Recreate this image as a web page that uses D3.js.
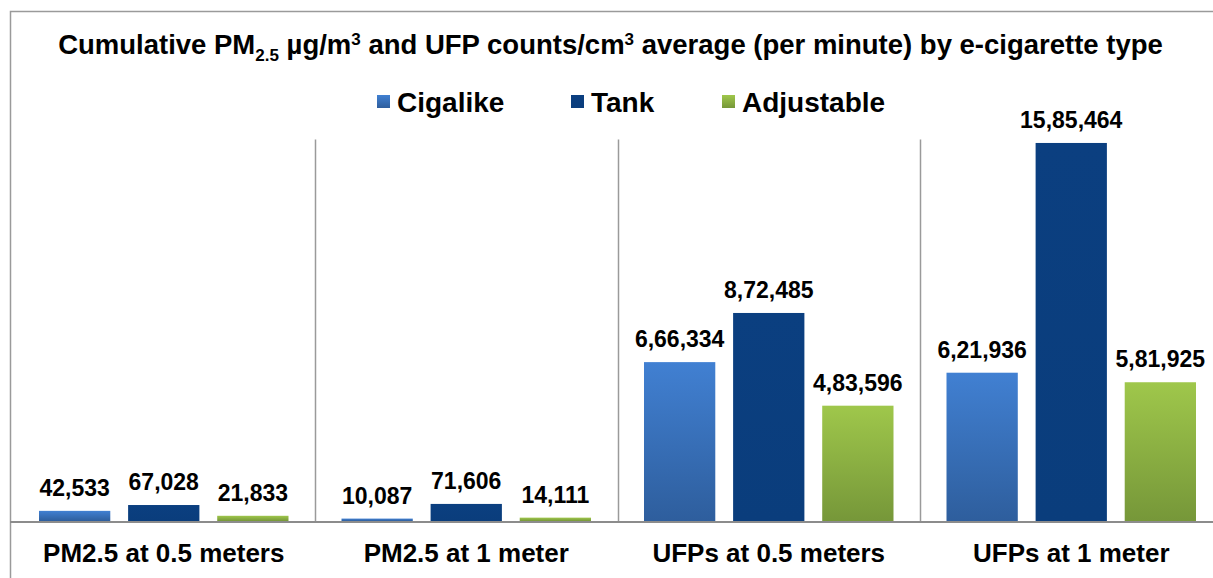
<!DOCTYPE html>
<html>
<head>
<meta charset="utf-8">
<script src="https://cdn.jsdelivr.net/npm/d3@7"></script>
<style>
  body { margin: 0; background: #fff; }
  svg { display: block; font-family: "Liberation Sans", Arial, sans-serif; }
</style>
</head>
<body>
<div id="chart"></div>
<script>
// data
const categories = ["PM2.5 at 0.5 meters", "PM2.5 at 1 meter", "UFPs at 0.5 meters", "UFPs at 1 meter"];
const series = ["Cigalike", "Tank", "Adjustable"];
const cigalike = [42533, 10087, 666334, 621936];
const tank = [67028, 71606, 872485, 1585464];
const adjustable = [21833, 14111, 483596, 581925];
const yMax = 1600000;

const values = [cigalike, tank, adjustable];
const colors = {
	Cigalike: ["#4180d2", "#2e5e9d"],
	Tank: ["#0b3f80", "#0a3d7c"],
	Adjustable: ["#9fc74b", "#769739"]
};

const W = 1213, H = 578;
const plotLeft = 12.5, plotRight = 1222.5, plotTop = 139.5, baseY = 521;

// indian style digit grouping: 15,85,464
function fmt(n) {
	const s = String(n);
	if (s.length <= 3) return s;
	let head = s.slice(0, -3), tail = s.slice(-3);
	head = head.replace(/\B(?=(\d{2})+(?!\d))/g, ",");
	return head + "," + tail;
}

const svg = d3.select("#chart")
	.append("svg")
	.attr("width", W)
	.attr("height", H);

// gradients
const defs = svg.append("defs");
series.forEach(s => {
	const g = defs.append("linearGradient")
		.attr("id", "grad-" + s)
		.attr("x1", 0).attr("y1", 0).attr("x2", 0).attr("y2", 1);
	g.append("stop").attr("offset", "0%").attr("stop-color", colors[s][0]);
	g.append("stop").attr("offset", "100%").attr("stop-color", colors[s][1]);
});

// outer frame (cropped on right and bottom)
svg.append("path")
	.attr("d", `M10.5,${H + 5} V11.5 H${W + 5}`)
	.attr("fill", "none")
	.attr("stroke", "#9a9a9a")
	.attr("stroke-width", 1.5);

// scales
const x = d3.scaleBand()
	.domain(categories)
	.range([plotLeft, plotRight])
	.padding(0);

const xInner = d3.scaleBand()
	.domain(series)
	.range([26.5, x.bandwidth() - 26.5])
	.paddingInner(0.2)
	.paddingOuter(0);

const y = d3.scaleLinear()
	.domain([0, yMax])
	.range([baseY, plotTop]);

// category separators
svg.append("g")
	.selectAll("line")
	.data(categories.slice(1))
	.join("line")
	.attr("x1", d => Math.round(x(d)) + 0.5)
	.attr("x2", d => Math.round(x(d)) + 0.5)
	.attr("y1", y(yMax))
	.attr("y2", baseY)
	.attr("stroke", "#9a9a9a")
	.attr("stroke-width", 1.5);

// bars
const rows = [];
categories.forEach((c, i) => {
	series.forEach((s, j) => rows.push({cat: c, key: s, value: values[j][i]}));
});

svg.append("g")
	.selectAll("rect")
	.data(rows)
	.join("rect")
	.attr("x", d => x(d.cat) + xInner(d.key))
	.attr("y", d => y(d.value))
	.attr("width", xInner.bandwidth())
	.attr("height", d => baseY - y(d.value))
	.attr("fill", d => `url(#grad-${d.key})`);

// data labels
svg.append("g")
	.selectAll("text")
	.data(rows)
	.join("text")
	.attr("x", d => x(d.cat) + xInner(d.key) + xInner.bandwidth() / 2)
	.attr("y", d => y(d.value) - 15)
	.attr("text-anchor", "middle")
	.style("font-size", "23px")
	.style("font-weight", "bold")
	.style("fill", "#000")
	.text(d => fmt(d.value));

// baseline axis
svg.append("line")
	.attr("x1", 10)
	.attr("x2", W + 5)
	.attr("y1", baseY + 1)
	.attr("y2", baseY + 1)
	.attr("stroke", "#8c8c8c")
	.attr("stroke-width", 2);

// category labels
svg.append("g")
	.selectAll("text")
	.data(categories)
	.join("text")
	.attr("x", d => x(d) + x.bandwidth() / 2)
	.attr("y", 562)
	.attr("text-anchor", "middle")
	.style("font-size", "26px")
	.style("font-weight", "bold")
	.text(d => d);

// title
const title = svg.append("text")
	.attr("x", 610.5)
	.attr("y", 54)
	.attr("text-anchor", "middle")
	.style("font-size", "27.5px")
	.style("font-weight", "bold");
title.append("tspan").text("Cumulative PM");
title.append("tspan").attr("dy", 7).style("font-size", "17px").text("2.5");
title.append("tspan").attr("dy", -7).text(" µg/m");
title.append("tspan").attr("dy", -9).style("font-size", "17px").text("3");
title.append("tspan").attr("dy", 9).text(" and UFP counts/cm");
title.append("tspan").attr("dy", -9).style("font-size", "17px").text("3");
title.append("tspan").attr("dy", 9).text(" average (per minute) by e-cigarette type");

// legend
const legendX = [377, 571, 722];
const legend = svg.append("g")
	.selectAll("g")
	.data(series)
	.join("g")
	.attr("transform", (d, i) => `translate(${legendX[i]},95)`);

legend.append("rect")
	.attr("width", 13)
	.attr("height", 13)
	.attr("fill", d => `url(#grad-${d})`);

legend.append("text")
	.attr("x", 20)
	.attr("y", 17)
	.style("font-size", "28px")
	.style("font-weight", "bold")
	.text(d => d);
</script>
</body>
</html>
